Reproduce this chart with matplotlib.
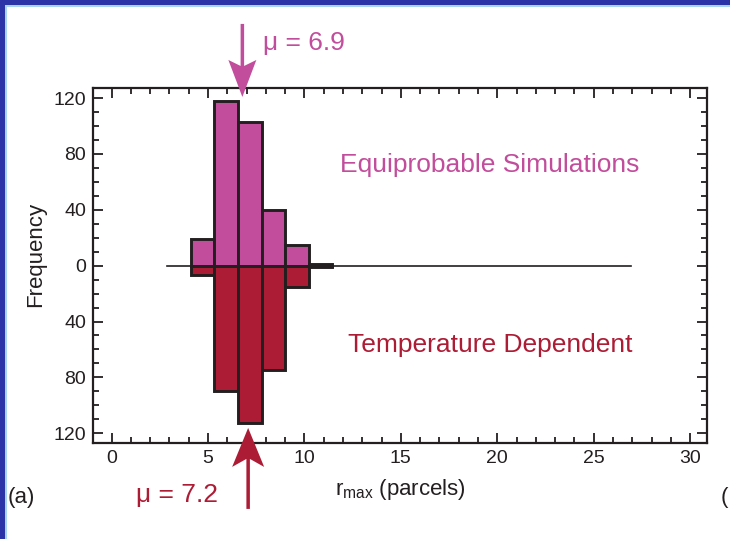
import matplotlib
matplotlib.use('Agg')
import matplotlib.pyplot as plt
from matplotlib.patches import Polygon, Rectangle
from matplotlib.ticker import FixedLocator, MultipleLocator, FixedFormatter
from matplotlib.transforms import IdentityTransform
import numpy as np

plt.rcParams['font.family'] = ['Liberation Sans', 'DejaVu Sans']
plt.rcParams['mathtext.fontset'] = 'custom'
plt.rcParams['mathtext.rm'] = 'Liberation Sans'
plt.rcParams['mathtext.it'] = 'Liberation Sans:italic'

# ---- data ----
bin_edges = [4.1, 5.325, 6.55, 7.775, 9.0, 10.225, 11.45]
equiprobable_counts = [19, 118, 103, 40, 15, 1]
temperature_counts = [7, 90, 113, 75, 15, 1]
baseline_range = [2.85, 26.95]
mean_labels = ['\u03bc = 6.9', '\u03bc = 7.2']
arrow_x = [6.78, 7.08]
x_ticks = [0, 5, 10, 15, 20, 25, 30]
x_tick_labels = ['0', '5', '10', '15', '20', '25', '30']
y_ticks = [-120, -80, -40, 0, 40, 80, 120]
y_tick_labels = ['120', '80', '40', '0', '40', '80', '120']

MAGENTA = '#C24D9C'
CRIMSON = '#AD1C35'
DARK = '#231F20'

W, H = 730, 539
fig = plt.figure(figsize=(W / 100, H / 100), dpi=100)
fig.patch.set_facecolor('white')
ax = fig.add_axes([93.3 / W, 1 - 443 / H, 613.4 / W, 354.7 / H])

left = np.array(bin_edges[:-1])
widths = np.diff(bin_edges)
ax.plot(baseline_range, [0, 0], color=DARK, lw=1.2, zorder=1)
ax.bar(left, equiprobable_counts, width=widths, align='edge', color=MAGENTA,
       edgecolor=DARK, linewidth=2.1, zorder=2)
ax.bar(left, -np.array(temperature_counts), width=widths, align='edge', color=CRIMSON,
       edgecolor=DARK, linewidth=2.1, zorder=2)

ax.set_xlim(-0.95, 30.86)
ax.set_ylim(-127, 127)
ax.xaxis.set_major_locator(FixedLocator(x_ticks))
ax.xaxis.set_major_formatter(FixedFormatter(x_tick_labels))
ax.xaxis.set_minor_locator(MultipleLocator(1))
ax.yaxis.set_major_locator(FixedLocator(y_ticks))
ax.yaxis.set_major_formatter(FixedFormatter(y_tick_labels))
ax.yaxis.set_minor_locator(MultipleLocator(10))
ax.tick_params(which='both', direction='in', top=True, right=True, width=1.3,
               color=DARK, labelsize=14, pad=5, labelcolor=DARK)
ax.tick_params(which='major', length=7)
ax.tick_params(which='minor', length=4)
for s in ax.spines.values():
    s.set_linewidth(1.6)
    s.set_color(DARK)

fig.canvas.draw()


def draw_arrow(xd, tip_yd, tail_yd, head_len, half_w, notch, shaft_w, color):
    tx, ty = ax.transData.transform((xd, tip_yd))
    _, tl = ax.transData.transform((xd, tail_yd))
    d = np.sign(tl - ty)
    j = ty + d * (head_len - notch)
    b = ty + d * head_len
    pts = [(tx, ty), (tx + half_w, b), (tx + shaft_w / 2, j), (tx + shaft_w / 2, tl),
           (tx - shaft_w / 2, tl), (tx - shaft_w / 2, j), (tx - half_w, b)]
    poly = Polygon(pts, closed=True, transform=IdentityTransform(), facecolor=color,
                   edgecolor='none', clip_on=False, zorder=5)
    fig.add_artist(poly)


draw_arrow(arrow_x[0], 120.8, 173.1, 37, 14, 6, 3.5, MAGENTA)
draw_arrow(arrow_x[1], -116.2, -174.2, 39, 16, 8, 3.5, CRIMSON)

ax.text(7.85, 154.4, mean_labels[0], color=MAGENTA, fontsize=19, ha='left',
        va='baseline', clip_on=False)
ax.text(5.51, -169.3, mean_labels[1], color=CRIMSON, fontsize=19, ha='right',
        va='baseline', clip_on=False)
ax.text(19.62, 66.8, 'Equiprobable Simulations', color=MAGENTA, fontsize=19,
        ha='center', va='baseline')
ax.text(19.62, -61.6, 'Temperature Dependent', color=CRIMSON, fontsize=19,
        ha='center', va='baseline')

fig.text(400 / W, 1 - 495 / H, r'r$_{\mathrm{max}}$ (parcels)', fontsize=16,
         color=DARK, ha='center', va='baseline')
fig.text(36 / W, 1 - 254 / H, 'Frequency', fontsize=16, color=DARK, rotation=90,
         ha='center', va='center')
fig.text(8 / W, 1 - 503 / H, '(a)', fontsize=16, color=DARK, ha='left', va='baseline')
fig.text(721 / W, 1 - 503 / H, '(', fontsize=16, color=DARK, ha='left', va='baseline')

# slide frame
fig.add_artist(Rectangle((0, 1 - 5 / H), 1, 5 / H, transform=fig.transFigure,
                         facecolor='#2B33A6', edgecolor='none'))
fig.add_artist(Rectangle((5 / W, 1 - 7 / H), 1, 2 / H, transform=fig.transFigure,
                         facecolor='#A4D6E8', edgecolor='none'))
fig.add_artist(Rectangle((0, 0), 5 / W, 1, transform=fig.transFigure,
                         facecolor='#2B33A6', edgecolor='none'))
fig.add_artist(Rectangle((5 / W, 0), 2 / W, 1 - 5 / H, transform=fig.transFigure,
                         facecolor='#A4D6E8', edgecolor='none'))

fig.savefig('out.png', dpi=100)
